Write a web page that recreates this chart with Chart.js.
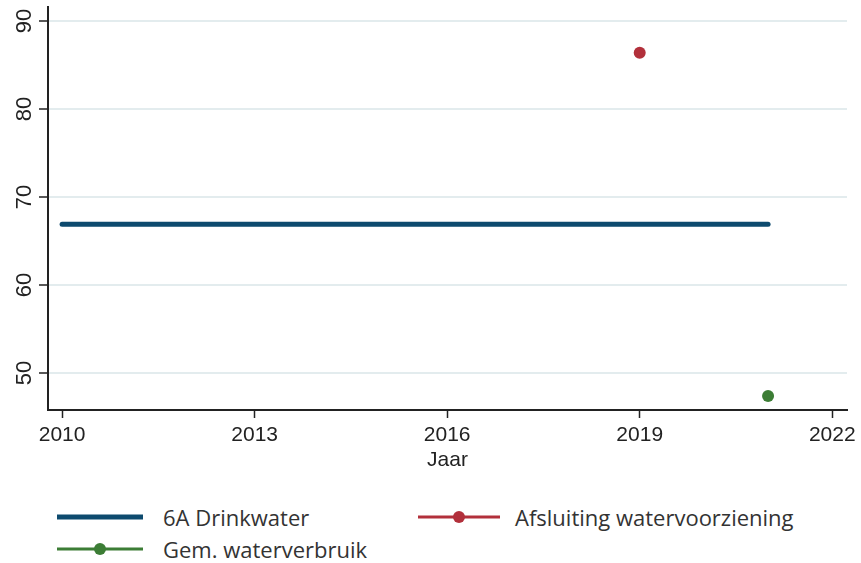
<!DOCTYPE html>
<html>
<head>
<meta charset="utf-8">
<script src="https://cdn.jsdelivr.net/npm/chart.js@4.4.0/dist/chart.umd.min.js"></script>
<style>
  html, body { margin: 0; padding: 0; background: #fff; }
  #wrap { position: relative; width: 861px; height: 563px; overflow: hidden; }
  #chartBox { position: absolute; left: 0; top: 0; width: 861px; height: 480px; }
  .leg { position: absolute; font-family: "Open Sans", sans-serif; font-size: 22px; color: #333; line-height: 24px; white-space: nowrap; }
  .sw { position: absolute; }
</style>
</head>
<body>
<div id="wrap">
  <div id="chartBox"><canvas id="chart"></canvas></div>
  <div id="legend"></div>
</div>
<script>
// data
const drinkwaterYears = [2010, 2021];
const drinkwaterValues = [66.9, 66.9];
const afsluitingYears = [2019];
const afsluitingValues = [86.4];
const verbruikYears = [2021];
const verbruikValues = [47.4];

const xTicks = [2010, 2013, 2016, 2019, 2022];
const yTicks = [50, 60, 70, 80, 90];

const seriesNames = ['6A Drinkwater', 'Afsluiting watervoorziening', 'Gem. waterverbruik'];
const seriesColors = ['#0d4a6e', '#b2303b', '#3c7d35'];

function toPoints(xs, ys) {
  return xs.map((x, i) => ({ x: x, y: ys[i] }));
}

const axisColor = '#222';
const xFont = { family: '"Liberation Sans", Arial, sans-serif', size: 21 };
const yFont = { family: '"Liberation Sans", Arial, sans-serif', size: 22 };

const chart = new Chart(document.getElementById('chart'), {
  type: 'line',
  data: {
    datasets: [
      {
        label: seriesNames[0],
        data: toPoints(drinkwaterYears, drinkwaterValues),
        borderColor: seriesColors[0],
        backgroundColor: seriesColors[0],
        borderWidth: 5,
        pointRadius: 0,
        borderCapStyle: 'round'
      },
      {
        label: seriesNames[1],
        data: toPoints(afsluitingYears, afsluitingValues),
        borderColor: seriesColors[1],
        backgroundColor: seriesColors[1],
        showLine: false,
        pointRadius: 6,
        pointBorderWidth: 0
      },
      {
        label: seriesNames[2],
        data: toPoints(verbruikYears, verbruikValues),
        borderColor: seriesColors[2],
        backgroundColor: seriesColors[2],
        showLine: false,
        pointRadius: 6,
        pointBorderWidth: 0
      }
    ]
  },
  options: {
    responsive: true,
    maintainAspectRatio: false,
    animation: false,
    layout: { padding: { top: 7, right: 14, left: 0, bottom: 0 } },
    plugins: {
      legend: { display: false },
      tooltip: { enabled: false }
    },
    scales: {
      x: {
        type: 'linear',
        min: 2009.78,
        max: 2022.23,
        afterBuildTicks: scale => { scale.ticks = xTicks.map(v => ({ value: v })); },
        afterFit: scale => { scale.height = 70; },
        border: { display: true, color: axisColor, width: 2 },
        grid: { drawOnChartArea: false, drawTicks: true, tickLength: 8, tickColor: axisColor, tickWidth: 1.5 },
        ticks: { font: xFont, color: axisColor, padding: 5, maxRotation: 0, callback: v => String(v) },
        title: {
          display: true,
          text: 'Jaar',
          font: xFont,
          color: axisColor,
          padding: { top: 0, bottom: 7 }
        }
      },
      y: {
        min: 45.8,
        max: 91.6,
        afterBuildTicks: scale => { scale.ticks = yTicks.map(v => ({ value: v })); },
        afterFit: scale => {
          scale.width = 48;
          scale.paddingTop = 0;
          scale.paddingBottom = 0;
        },
        border: { display: true, color: axisColor, width: 2 },
        grid: { color: '#e3ecee', lineWidth: 2, drawTicks: true, tickLength: 9, tickColor: axisColor, tickWidth: 1.5 },
        ticks: {
          font: yFont,
          color: axisColor,
          minRotation: 90,
          maxRotation: 90,
          crossAlign: 'center',
          padding: 2
        }
      }
    }
  }
});

// legend below the chart, built from the datasets
const legendSpots = [
  { left: 57, top: 505, swatchW: 86, textLeft: 163 },
  { left: 418, top: 505, swatchW: 82, textLeft: 515 },
  { left: 57, top: 537, swatchW: 86, textLeft: 163 }
];
const legendEl = document.getElementById('legend');
chart.data.datasets.forEach((ds, i) => {
  const s = legendSpots[i];
  const isLine = ds.showLine !== false;
  const lw = isLine ? 5 : 3;
  const svg = `<svg class="sw" style="left:${s.left}px;top:${s.top}px" width="${s.swatchW}" height="24">
      <line x1="0" y1="12" x2="${s.swatchW}" y2="12" stroke="${ds.borderColor}" stroke-width="${lw}"/>
      ${isLine ? '' : `<circle cx="${s.swatchW / 2}" cy="12" r="6" fill="${ds.backgroundColor}"/>`}
    </svg>`;
  legendEl.insertAdjacentHTML('beforeend', svg +
    `<div class="leg" style="left:${s.textLeft}px;top:${s.top}px">${ds.label}</div>`);
});
</script>
</body>
</html>
